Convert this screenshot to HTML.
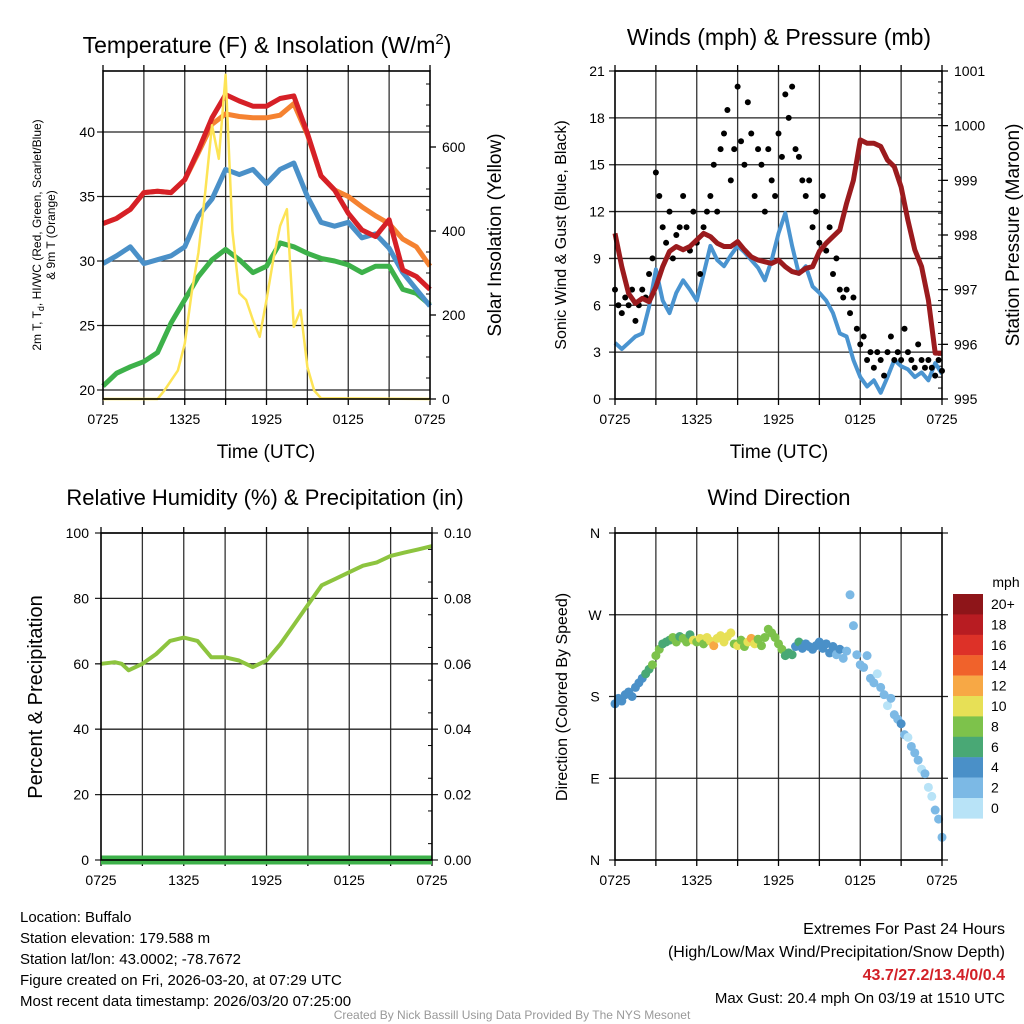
<!DOCTYPE html>
<html><head><meta charset="utf-8"><style>
html,body{margin:0;padding:0;background:#fff;}
svg{display:block;font-family:"Liberation Sans",Arial,sans-serif;}
</style></head><body>
<svg id="chart" width="1024" height="1024" viewBox="0 0 1024 1024" xmlns="http://www.w3.org/2000/svg">
<g id="layer"></g>
<g font-size="15" fill="#000">
<text x="20" y="922">Location: Buffalo</text>
<text x="20" y="943">Station elevation: 179.588 m</text>
<text x="20" y="964">Station lat/lon: 43.0002; -78.7672</text>
<text x="20" y="985">Figure created on Fri, 2026-03-20, at 07:29 UTC</text>
<text x="20" y="1006">Most recent data timestamp: 2026/03/20 07:25:00</text>
<text x="1005" y="934" text-anchor="end" font-size="16">Extremes For Past 24 Hours</text>
<text x="1005" y="957" text-anchor="end" font-size="16">(High/Low/Max Wind/Precipitation/Snow Depth)</text>
<text x="1005" y="980" text-anchor="end" font-size="16" font-weight="bold" fill="#d22027">43.7/27.2/13.4/0/0.4</text>
<text x="1005" y="1003" text-anchor="end" font-size="15">Max Gust: 20.4 mph On 03/19 at 1510 UTC</text>
<text x="512" y="1019" text-anchor="middle" font-size="12" fill="#999">Created By Nick Bassill Using Data Provided By The NYS Mesonet</text>
</g>
</svg>
<script>
// ---------- data (hours since 0725 UTC) ----------
const hrs = [0,1,2,3,4,5,6,7,8,9,10,11,12,13,14,15,16,17,18,19,20,21,22,23,24];
const tempRed = [32.9,33.3,34.0,35.3,35.4,35.3,36.3,38.6,41.1,42.9,42.4,42.0,42.0,42.6,42.8,39.9,36.6,35.5,33.7,32.4,31.9,33.2,29.3,28.8,27.8];
const temp9m  = [32.9,33.3,34.0,35.3,35.4,35.3,36.3,38.4,40.6,41.4,41.2,41.1,41.1,41.3,42.2,39.8,36.6,35.5,35.0,34.2,33.5,32.9,31.7,31.1,29.6];
const dewpt   = [20.3,21.3,21.8,22.2,22.9,25.2,27.0,28.8,30.1,30.9,30.1,29.1,29.6,31.4,31.1,30.6,30.2,30.0,29.7,29.1,29.6,29.6,27.8,27.5,26.6];
const windChill=[29.8,30.4,31.1,29.8,30.1,30.4,31.1,33.5,34.8,37.1,36.7,37.1,36.0,37.1,37.6,35.0,33.0,32.7,33.0,31.8,32.1,31.0,29.1,27.8,26.5];
const solarHrs = [0,4,4.5,5,5.5,6,6.5,7,7.5,8,8.5,9,9.5,10,10.5,11,11.5,12,12.5,13,13.5,14,14.5,15,15.5,16,24];
const solar    = [0,0,20,44,68,132,252,348,492,652,572,772,400,252,236,188,148,236,332,412,452,172,212,76,20,2,0];
const halfHrs = [0,0.5,1,1.5,2,2.5,3,3.5,4,4.5,5,5.5,6,6.5,7,7.5,8,8.5,9,9.5,10,10.5,11,11.5,12,12.5,13,13.5,14,14.5,15,15.5,16,16.5,17,17.5,18,18.5,19,19.5,20,20.5,21,21.5,22,22.5,23,23.5,24];
const pressure = [998.03,997.42,996.93,996.75,996.84,996.78,997.05,997.42,997.70,997.79,997.73,997.79,997.91,998.03,997.97,997.85,997.79,997.79,997.88,997.73,997.60,997.54,997.51,997.48,997.54,997.42,997.33,997.30,997.39,997.42,997.70,997.85,997.97,998.09,998.58,999.0,999.74,999.68,999.68,999.62,999.37,999.25,998.88,998.27,997.73,997.42,996.81,995.84,995.84];
const sonicWind = [3.6,3.2,3.6,4.0,4.2,5.9,8.3,6.3,5.5,6.8,7.6,7.0,6.3,8.0,9.8,8.9,8.5,9.2,9.8,9.4,8.9,8.4,7.6,8.9,10.6,11.9,9.8,8.0,8.5,7.2,6.8,6.3,5.5,4.2,4.0,2.5,1.4,0.8,1.2,0.4,1.4,2.5,2.1,1.9,1.4,1.7,1.2,2.3,1.6];
const qtrHrs = Array.from({length:97},(_,i)=>i/4);
const gusts = [7,6,5.5,6.5, 6,7,5,6, 7,6.5,8,9, 14.5,13,11,10, 12,9,10.5,11, 13,11,9.5,12, 10,8,11,12, 13,15,12,16, 17,18.5,14,16, 20,16.5,15,19, 17,13,16,15, 12,16,14,13, 17,15.5,19.5,18, 20,16,15.5,14, 13,14,11,12, 10,13,9.5,11, 8,9,7,6.5, 7,5.5,6.5,4.5, 3.5,4,2.5,3, 2,3,2.5,1.5, 3,4,2.5,3, 2.5,4.5,3,2.5, 2,3.5,2.5,2, 2.5,2,1.5,2.5, 1.8];
const windDir = [172,178,175,182, 185,180,190,195, 200,205,210,215, 225,232,238,240, 242,245,240,246, 244,240,248,242, 240,244,238,245, 241,236,244,247, 240,246,250,238, 236,242,235,240, 244,238,243,236, 245,254,250,245, 238,232,225,228, 226,235,240,233, 238,235,232,236, 240,233,238,228, 235,226,232,222, 230,292,258,226, 215,212,225,200, 195,205,190,182, 170,178,160,155, 150,138,135,125, 118,110,100,95, 80,70,55,45, 25];
const windSpd = [4,4,3,4, 4,3,4,4, 4,5,6,7, 8,7,6,5, 6,7,8,6, 7,8,6,9, 8,10,8,9, 10,11,9,10, 9,10,10,8, 9,7,8,9, 12,10,8,7, 8,8,7,8, 8,7,6,6, 5,4,5,4, 4,3,4,3, 4,4,3,4, 3,2,3,2, 2,1,1,2, 1,2,2,1, 1,0,1,2, 0,2,1,2, 3,1,0,2, 1,2,0,1, 0,0,1,2, 1];
const rhHrs = [0,1,1.5,2,3,4,5,6,7,8,9,10,11,12,13,14,15,16,17,18,19,20,21,22,23,24];
const rh = [60,60.5,60,58,60,63,67,68,67,62,62,61,59,61,66,72,78,84,86,88,90,91,93,94,95,96];
const xTickLabels = ["0725","1325","1925","0125","0725"];
const tempTicks = [20,25,30,35,40];
const solarTicks = [0,200,400,600];
const windTicks = [0,3,6,9,12,15,18,21];
const presTicks = [995,996,997,998,999,1000,1001];
const rhTicks = [0,20,40,60,80,100];
const precipTicks = ["0.00","0.02","0.04","0.06","0.08","0.10"];
const dirTicks = ["N","E","S","W","N"];
const cbLabels = ["20+","18","16","14","12","10","8","6","4","2","0"];
const cbColors = ["#8e1519","#b81c22","#dd3128","#f0622b","#f7a845","#e7e056","#7dc24b","#49a875","#4a90c8","#7cb9e5","#b8e3f7"];

const NS="http://www.w3.org/2000/svg";
const layer=document.getElementById('layer');
function mk(tag,attrs,parent){const e=document.createElementNS(NS,tag);for(const k in attrs)e.setAttribute(k,attrs[k]);(parent||layer).appendChild(e);return e;}
function txt(x,y,s,size,anchor,parent,rot){const e=mk('text',{x:x,y:y,'font-size':size,'text-anchor':anchor||'middle'},parent);if(rot)e.setAttribute('transform','rotate(-90 '+x+' '+y+')');e.textContent=s;return e;}
function lin(d0,d1,r0,r1){return v=>r0+(v-d0)/(d1-d0)*(r1-r0);}
function pathD(xs,ys,fx,fy){return xs.map((v,i)=>(i?'L':'M')+fx(v).toFixed(1)+' '+fy(ys[i]).toFixed(1)).join(' ');}

function frame(p,name){
  const g=mk('g',{});
  
  
  for(let h=3;h<24;h+=3){const l=mk('line',{x1:p.x(h),x2:p.x(h),y1:p.t,y2:p.b,stroke:'#333','stroke-width':1.3},g);
    }
  for(let h=0;h<=24;h+=3){mk('line',{x1:p.x(h),x2:p.x(h),y1:p.b,y2:p.b+6,stroke:'#000','stroke-width':1.3},g);mk('line',{x1:p.x(h),x2:p.x(h),y1:p.t,y2:p.t-6,stroke:'#000','stroke-width':1.3},g);}
  xTickLabels.forEach((s,i)=>{const t=txt(p.x(i*6),p.b+25,s,14,'middle',g);});
  return g;
}
function border(p,g){const r=mk('rect',{x:p.l,y:p.t,width:p.r-p.l,height:p.b-p.t,fill:'none',stroke:'#000','stroke-width':1.6},g);}

// ---------- Panel 1: temperature ----------
(function(){
  const p={l:103,r:430,t:71,b:399};p.x=lin(0,24,p.l,p.r);
  const y=lin(20,40,390,132), ys=lin(0,600,399,147);
  const g=frame(p,'temperature-panel');
  tempTicks.forEach(v=>{mk('line',{x1:p.l-6,x2:p.r,y1:y(v),y2:y(v),stroke:'#222','stroke-width':1.3},g);
    const t=txt(p.l-8,y(v)+5,v,14,'end',g);});
  solarTicks.forEach(v=>{mk('line',{x1:p.r,x2:p.r+6,y1:ys(v),y2:ys(v),stroke:'#000','stroke-width':1.3},g);
    const t=txt(p.r+12,ys(v)+5,v,14,'start',g);});
  for(let v=50;v<780;v+=50){if(v%200)mk('line',{x1:p.r-4,x2:p.r,y1:ys(v),y2:ys(v),stroke:'#000'},g);}
  [[dewpt,'#3db14a','dewpoint-line'],[windChill,'#4a90c8','windchill-line'],[temp9m,'#f58231','temp-9m-line'],[tempRed,'#d62027','temp-2m-line']].forEach(([d,c,n])=>{
    const e=mk('path',{d:pathD(hrs,d,p.x,y),fill:'none',stroke:c,'stroke-width':5,'stroke-linejoin':'round'},g);
    });
  const s=mk('path',{d:pathD(solarHrs,solar,p.x,ys),fill:'none',stroke:'#fde456','stroke-width':2.5,'stroke-linejoin':'round'},g);
  
  border(p,g);
  const t1=mk('text',{x:267,y:53,'font-size':23,'text-anchor':'middle'},g);
  
  t1.innerHTML='Temperature (F) &amp; Insolation (W/m<tspan dy="-9" font-size="15">2</tspan><tspan dy="9">)</tspan>';
  const a=txt(266,458,'Time (UTC)',19,'middle',g);
  const l1=mk('text',{x:41,y:235,'font-size':12,'text-anchor':'middle',transform:'rotate(-90 41 235)'},g);
  
  l1.innerHTML='2m T, T<tspan dy="3" font-size="9">d</tspan><tspan dy="-3">, HI/WC (Red, Green, Scarlet/Blue)</tspan>';
  const l2=txt(55,235,'& 9m T (Orange)',12,'middle',g,true);
  const r=txt(501,235,'Solar Insolation (Yellow)',19,'middle',g,true);
})();

// ---------- Panel 2: wind & pressure ----------
(function(){
  const p={l:615,r:942,t:71,b:399};p.x=lin(0,24,p.l,p.r);
  const y=lin(0,21,p.b,p.t), yp=lin(995,1001,p.b,p.t);
  const g=frame(p,'wind-panel');
  windTicks.forEach(v=>{mk('line',{x1:p.l-6,x2:p.r,y1:y(v),y2:y(v),stroke:'#222','stroke-width':1.3},g);
    const t=txt(p.l-18,y(v)+5,v,14,'middle',g);});
  presTicks.forEach(v=>{mk('line',{x1:p.r,x2:p.r+6,y1:yp(v),y2:yp(v),stroke:'#000','stroke-width':1.3},g);
    const t=txt(p.r+12,yp(v)+5,v,14,'start',g);});
  for(let v=995.2;v<1001;v+=0.2){mk('line',{x1:p.r-4,x2:p.r,y1:yp(v),y2:yp(v),stroke:'#000'},g);}
  const w=mk('path',{d:pathD(halfHrs,sonicWind,p.x,y),fill:'none',stroke:'#4a94d0','stroke-width':4,'stroke-linejoin':'round'},g);
  
  qtrHrs.forEach((h,i)=>{const c=mk('circle',{cx:p.x(h),cy:y(gusts[i]),r:3,fill:'#000'},g);
    });
  const pr=mk('path',{d:pathD(halfHrs,pressure,p.x,yp),fill:'none',stroke:'#9b1b1e','stroke-width':5,'stroke-linejoin':'round'},g);
  
  border(p,g);
  const t=txt(779,45,'Winds (mph) & Pressure (mb)',23,'middle',g);
  const a=txt(779,458,'Time (UTC)',19,'middle',g);
  const l=txt(566,235,'Sonic Wind & Gust (Blue, Black)',16,'middle',g,true);
  const r=txt(1019,235,'Station Pressure (Maroon)',19,'middle',g,true);
})();

// ---------- Panel 3: RH ----------
(function(){
  const p={l:101,r:432,t:533,b:860};p.x=lin(0,24,p.l,p.r);
  const y=lin(0,100,p.b,p.t);
  const g=frame(p,'humidity-panel');
  rhTicks.forEach((v,i)=>{mk('line',{x1:p.l-6,x2:p.r+6,y1:y(v),y2:y(v),stroke:'#222','stroke-width':1.3},g);
    const t=txt(p.l-12,y(v)+5,v,14,'end',g);
    const t2=txt(p.r+12,y(v)+5,precipTicks[i],14,'start',g);});
  for(let v=5;v<100;v+=10){mk('line',{x1:p.r-4,x2:p.r,y1:y(v),y2:y(v),stroke:'#000'},g);}
  const r=mk('path',{d:pathD(rhHrs,rh,p.x,y),fill:'none',stroke:'#8dc43f','stroke-width':4,'stroke-linejoin':'round'},g);
  
  const pc=mk('line',{x1:p.l,x2:p.r,y1:p.b,y2:p.b,stroke:'#3db14a','stroke-width':9},g);
  
  border(p,g);
  const t=txt(265,505,'Relative Humidity (%) & Precipitation (in)',22,'middle',g);
  const l=txt(42,697,'Percent & Precipitation',20,'middle',g,true);
})();

// ---------- Panel 4: wind direction ----------
(function(){
  const p={l:615,r:942,t:533,b:860};p.x=lin(0,24,p.l,p.r);
  const y=lin(0,360,p.b,p.t);
  const g=frame(p,'direction-panel');
  dirTicks.forEach((s,i)=>{mk('line',{x1:p.l-6,x2:p.r+6,y1:y(i*90),y2:y(i*90),stroke:'#222','stroke-width':1.3},g);
    const t=txt(p.l-20,y(i*90)+5,s,14,'middle',g);});
  qtrHrs.forEach((h,i)=>{const k=Math.max(0,Math.min(10,10-Math.round(windSpd[i]/2)));
    const c=mk('circle',{cx:p.x(h),cy:y(windDir[i]),r:4.5,fill:cbColors[k]},g);
    });
  border(p,g);
  const t=txt(779,505,'Wind Direction',22,'middle',g);
  const l=txt(567,697,'Direction (Colored By Speed)',16,'middle',g,true);
  const cb=mk('g',{},g);
  cbColors.forEach((c,i)=>{const r=mk('rect',{x:953,y:594+i*20.4,width:30,height:20.6,fill:c},cb);
    
    const tl=txt(991,609+i*20.4,cbLabels[i],14,'start',cb);});
  const m=txt(1006,587,'mph',14,'middle',cb);
})();
</script>
</body></html>
